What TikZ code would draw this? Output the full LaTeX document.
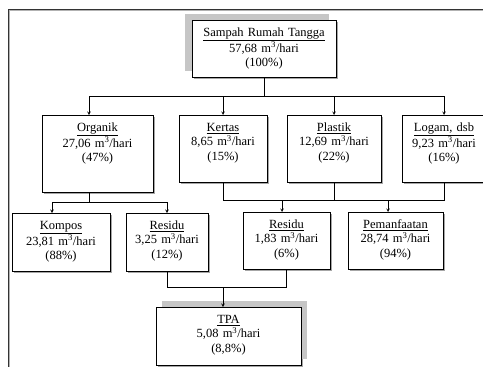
\documentclass[tikz,border=0pt]{standalone}
\usepackage{fontspec}
\setmainfont{Liberation Serif}
\usetikzlibrary{arrows, shadows}

\begin{document}
\begin{tikzpicture}[
            x = 1pt, y = -1pt, % pixel grid, y down
            > = stealth, % arrow head style
            shorten > = 0pt,
            semithick, % line style
            font = \fontsize{12.5}{14.5}\selectfont
        ]

        \tikzstyle{kotak}=[
            draw = black,
            fill = white,
            inner sep = 0pt,
            align = center,
            anchor = north,
            text height = 16pt,
            general shadow = {fill = gray!70, draw = none, shadow xshift = 1.5pt, shadow yshift = -1.5pt}
        ]
        \tikzstyle{kotak besar}=[
            kotak,
            general shadow = {fill = gray!45, draw = none}
        ]

        \useasboundingbox (0,0) rectangle (483,367);

        % frame
        \draw[gray!60, line width = 1.2pt] (9.5,367) -- (9.5,10.5) -- (483,10.5);
        \draw[black!80] (8,367) -- (8,9) -- (483,9);

        \node[kotak, text width=144pt, text depth=41pt,
              general shadow={fill=gray!45, draw=none, shadow xshift=-7pt, shadow yshift=6pt}]
              (sampah) at (264,20) {\underline{Sampah Rumah Tangga}\\57,68 m\textsuperscript{3}/hari\\(100\%)};

        \node[kotak, text width=111pt, text depth=61pt] (organik) at (97.5,115) {\underline{Organik}\\27,06 m\textsuperscript{3}/hari\\(47\%)};
        \node[kotak, text width=88pt, text depth=51pt] (kertas) at (223,115) {\underline{Kertas}\\8,65 m\textsuperscript{3}/hari\\(15\%)};
        \node[kotak, text width=94pt, text depth=51pt] (plastik) at (334,115) {\underline{Plastik}\\12,69 m\textsuperscript{3}/hari\\(22\%)};
        \node[kotak, text width=84pt, text depth=51pt] (logam) at (444,115) {\underline{Logam, dsb}\\9,23 m\textsuperscript{3}/hari\\(16\%)};

        \node[kotak, text width=98pt, text depth=42pt] (kompos) at (61,213) {\underline{Kompos}\\23,81 m\textsuperscript{3}/hari\\(88\%)};
        \node[kotak, text width=82pt, text depth=42pt] (residuA) at (167,213) {\underline{Residu}\\3,25 m\textsuperscript{3}/hari\\(12\%)};
        \node[kotak, text width=87pt, text depth=41pt] (residuB) at (286.5,212) {\underline{Residu}\\1,83 m\textsuperscript{3}/hari\\(6\%)};
        \node[kotak, text width=95pt, text depth=41pt] (manfaat) at (395.5,212) {\underline{Pemanfaatan}\\28,74 m\textsuperscript{3}/hari\\(94\%)};

        \node[kotak, text width=145pt, text depth=42pt,
              general shadow={fill=gray!45, draw=none, shadow xshift=6pt, shadow yshift=6pt}]
              (tpa) at (228.5,307) {\underline{TPA}\\5,08 m\textsuperscript{3}/hari\\(8,8\%)};

        % junctions
        \coordinate (bA) at (89,96);
        \coordinate (bB) at (444,96);
        \coordinate (oA) at (89,202);
        \coordinate (oK) at (52,202);
        \coordinate (dA) at (223,200);
        \coordinate (dR) at (282,200);
        \coordinate (dM) at (388,200);
        \coordinate (rT) at (223,287);

        % sampah -> jenis
        \draw (sampah.south) -- (sampah.south |- bA);
        \draw (bA) -- (bB);
        \draw[->] (bA) -- (bA |- organik.north);
        \draw[->] (kertas.north |- bA) -- (kertas.north);
        \draw[->] (plastik.north |- bA) -- (plastik.north);
        \draw[->] (bB) -- (logam.north);

        % organik -> kompos, residu
        \draw (oA |- organik.south) -- (oA);
        \draw (oK) -- (oK -| residuA.north);
        \draw[->] (oK) -- (oK |- kompos.north);
        \draw[->] (oK -| residuA.north) -- (residuA.north);

        % anorganik -> residu, pemanfaatan
        \draw (kertas.south) -- (dA) -- (dA -| logam.south) -- (logam.south);
        \draw (plastik.south) -- (plastik.south |- dA);
        \draw[->] (dR) -- (dR |- residuB.north);
        \draw[->] (dM) -- (dM |- manfaat.north);

        % residu -> TPA
        \draw (residuA.south) -- (residuA.south |- rT) -- (rT -| residuB.south) -- (residuB.south);
        \draw[->] (rT) -- (rT |- tpa.north);
    \end{tikzpicture}
\end{document}
